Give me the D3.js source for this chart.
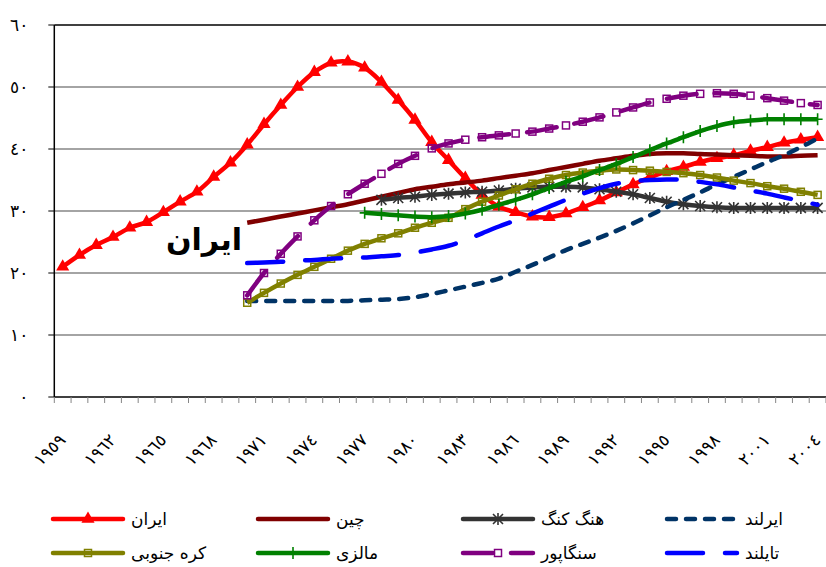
<!DOCTYPE html>
<html>
<head>
<meta charset="utf-8">
<script src="https://cdn.jsdelivr.net/npm/d3@7"></script>
<style>
  body { margin: 0; background: #fff; }
  text { font-family: "DejaVu Sans", sans-serif; }
</style>
</head>
<body>
<div id="chart"></div>
<script>
// categories (years) and their labels
const years = [1959, 1960, 1961, 1962, 1963, 1964, 1965, 1966, 1967, 1968, 1969, 1970,
  1971, 1972, 1973, 1974, 1975, 1976, 1977, 1978, 1979, 1980, 1981, 1982, 1983, 1984,
  1985, 1986, 1987, 1988, 1989, 1990, 1991, 1992, 1993, 1994, 1995, 1996, 1997, 1998,
  1999, 2000, 2001, 2002, 2003, 2004];
const yearLabels = ["١٩٥٩", "١٩٦٢", "١٩٦٥", "١٩٦٨", "١٩٧١", "١٩٧٤", "١٩٧٧", "١٩٨٠",
  "١٩٨٣", "١٩٨٦", "١٩٨٩", "١٩٩٢", "١٩٩٥", "١٩٩٨", "٢٠٠١", "٢٠٠٤"];
const labelYears = [1959, 1962, 1965, 1968, 1971, 1974, 1977, 1980, 1983, 1986, 1989,
  1992, 1995, 1998, 2001, 2004];
const yTicks = [0, 10, 20, 30, 40, 50, 60];
const yTickLabels = ["٠", "١٠", "٢٠", "٣٠", "٤٠", "٥٠", "٦٠"];

// series names
const seriesNames = ["ایران", "چین", "هنگ کنگ", "ایرلند", "کره جنوبی", "مالزی", "سنگاپور", "تایلند"];
const seriesStart = [1959, 1970, 1978, 1970, 1970, 1977, 1970, 1970];

// series values, one per year from the start year
const iran = [21.0, 22.9, 24.5, 25.8, 27.3, 28.2, 29.8, 31.5, 33.1, 35.5, 37.8, 40.7,
  44.0, 47.1, 50.0, 52.4, 53.9, 54.1, 53.1, 50.8, 47.9, 44.7, 41.1, 38.2, 35.3, 32.6,
  30.7, 29.8, 29.1, 29.0, 29.6, 30.6, 31.7, 33.0, 34.3, 35.4, 36.4, 37.1, 37.9, 38.5,
  39.0, 39.7, 40.3, 41.0, 41.5, 41.9];
const china = [28.1, 28.6, 29.1, 29.6, 30.1, 30.6, 31.1, 31.7, 32.3, 32.9, 33.5, 33.9,
  34.3, 34.6, 34.9, 35.3, 35.7, 36.1, 36.6, 37.1, 37.6, 38.1, 38.5, 38.9, 39.2, 39.3,
  39.3, 39.2, 39.1, 39.0, 38.9, 38.8, 38.8, 38.9, 39.0];
const hongKong = [31.8, 32.1, 32.3, 32.6, 32.8, 33.0, 33.1, 33.3, 33.6, 33.8, 33.9, 33.9,
  33.8, 33.5, 33.1, 32.7, 32.1, 31.5, 31.1, 30.8, 30.6, 30.5, 30.5, 30.5, 30.5, 30.5, 30.5];
const ireland = [15.5, 15.5, 15.5, 15.5, 15.5, 15.5, 15.5, 15.6, 15.7, 15.8, 16.1, 16.6,
  17.2, 17.8, 18.4, 19.1, 20.2, 21.3, 22.5, 23.7, 24.7, 25.7, 26.8, 28.0, 29.3, 30.6,
  31.8, 33.0, 34.3, 35.5, 36.7, 37.9, 39.0, 40.3, 41.7];
const korea = [15.2, 16.8, 18.3, 19.7, 21.0, 22.3, 23.6, 24.7, 25.6, 26.4, 27.3, 28.1,
  28.9, 30.3, 31.5, 32.5, 33.5, 34.4, 35.2, 35.8, 36.2, 36.5, 36.7, 36.6, 36.5, 36.3,
  36.1, 35.8, 35.4, 34.9, 34.5, 34.0, 33.6, 33.1, 32.6];
const malaysia = [29.7, 29.5, 29.3, 29.1, 29.0, 29.2, 29.6, 30.2, 31.0, 31.8, 32.7, 33.7,
  34.7, 35.6, 36.6, 37.6, 38.7, 39.8, 40.9, 41.9, 42.9, 43.7, 44.3, 44.6, 44.8, 44.8,
  44.8, 44.8];
const singapore = [16.4, 20.0, 23.1, 25.9, 28.5, 30.8, 32.7, 34.4, 36.0, 37.6, 38.9, 40.1,
  40.9, 41.5, 41.9, 42.2, 42.5, 42.8, 43.3, 43.8, 44.4, 45.1, 45.9, 46.7, 47.5, 48.1,
  48.6, 48.9, 49.0, 48.9, 48.6, 48.2, 47.8, 47.4, 47.1];
const thailand = [21.6, 21.7, 21.8, 22.0, 22.1, 22.3, 22.4, 22.5, 22.7, 22.9, 23.3, 23.8,
  24.4, 25.3, 26.4, 27.5, 28.5, 29.6, 30.7, 31.8, 32.8, 33.7, 34.4, 34.8, 35.0, 35.1,
  35.0, 34.7, 34.3, 33.8, 33.3, 32.8, 32.2, 31.6, 31.0];

const seriesValues = [iran, china, hongKong, ireland, korea, malaysia, singapore, thailand];

// styles per series
const styles = [
  { color: "#ff0000", dash: null, marker: "triangle" },
  { color: "#800000", dash: null, marker: null },
  { color: "#333333", dash: null, marker: "star" },
  { color: "#003366", dash: "9,10", marker: null },
  { color: "#808000", dash: null, marker: "square" },
  { color: "#008000", dash: null, marker: "plus" },
  { color: "#800080", dash: "30,18", marker: "square" },
  { color: "#0000ff", dash: "36,22", marker: null },
];

const margin = { top: 25, right: 0, bottom: 170, left: 54.3 },
  width = 826 - margin.left - margin.right,
  height = 567 - margin.top - margin.bottom;

const root = d3.select("#chart").append("svg")
  .attr("width", 826)
  .attr("height", 567);

const svg = root.append("g")
  .attr("transform", `translate(${margin.left},${margin.top})`);

const x = d3.scaleBand().domain(years).range([0, width]).padding(0);
const y = d3.scaleLinear().domain([0, 60]).range([height, 0]);
const cx = (yr) => x(yr) + x.bandwidth() / 2;

// gridlines
svg.selectAll(".grid")
  .data(yTicks.filter((t) => t > 0))
  .join("line")
  .attr("x1", 0)
  .attr("x2", width)
  .attr("y1", (d) => y(d))
  .attr("y2", (d) => y(d))
  .attr("stroke", (d) => (d === 60 ? "#000" : "#868686"))
  .attr("stroke-width", 1.3);

// y axis
svg.append("line")
  .attr("x1", 0).attr("x2", 0)
  .attr("y1", 0).attr("y2", height)
  .attr("stroke", "#000").attr("stroke-width", 1.5);
svg.selectAll(".ytick")
  .data(yTicks)
  .join("line")
  .attr("x1", -6).attr("x2", 0)
  .attr("y1", (d) => y(d)).attr("y2", (d) => y(d))
  .attr("stroke", "#000").attr("stroke-width", 1);
svg.selectAll(".ylabel")
  .data(yTicks)
  .join("text")
  .attr("x", -26)
  .attr("y", (d) => y(d))
  .attr("dy", "0.35em")
  .attr("text-anchor", "end")
  .attr("font-size", 17)
  .text((d, i) => yTickLabels[i]);

// x axis
svg.append("line")
  .attr("x1", 0).attr("x2", width)
  .attr("y1", height).attr("y2", height)
  .attr("stroke", "#000").attr("stroke-width", 1.3);
svg.selectAll(".xtick")
  .data(years.concat([null]))
  .join("line")
  .attr("x1", (d) => (d === null ? width : x(d)))
  .attr("x2", (d) => (d === null ? width : x(d)))
  .attr("y1", height).attr("y2", height + 6)
  .attr("stroke", "#868686").attr("stroke-width", 1);
svg.selectAll(".xlabel")
  .data(labelYears)
  .join("text")
  .attr("text-anchor", "end")
  .attr("font-size", 17)
  .attr("transform", (d) => `translate(${cx(d) + 4},${height + 44}) rotate(-45)`)
  .text((d, i) => yearLabels[i]);

// markers
function drawMarker(g, type, color) {
  if (type === "triangle") {
    g.append("path")
      .attr("d", d3.symbol(d3.symbolTriangle).size(75)())
      .attr("fill", color);
  } else if (type === "square") {
    g.append("rect")
      .attr("x", -3.5).attr("y", -3.5)
      .attr("width", 7).attr("height", 7)
      .attr("fill", "none")
      .attr("stroke", color).attr("stroke-width", 1.5);
  } else if (type === "star") {
    g.append("path")
      .attr("d", "M-5,-5L5,5M-5,5L5,-5M0,-6L0,6")
      .attr("stroke", color).attr("stroke-width", 1.6).attr("fill", "none");
  } else if (type === "plus") {
    g.append("path")
      .attr("d", "M-5,0L5,0M0,-6L0,6")
      .attr("stroke", color).attr("stroke-width", 1.6).attr("fill", "none");
  }
}

const line = d3.line()
  .x((d) => cx(d.year))
  .y((d) => y(d.value))
  .curve(d3.curveCatmullRom.alpha(0.5));

seriesNames.forEach((name, s) => {
  const pts = seriesValues[s].map((v, i) => ({ year: seriesStart[s] + i, value: v }));
  const st = styles[s];
  const g = svg.append("g");
  g.append("path")
    .datum(pts)
    .attr("d", line)
    .attr("fill", "none")
    .attr("stroke", st.color)
    .attr("stroke-width", 4.5)
    .attr("stroke-linecap", st.dash ? "round" : "butt")
    .attr("stroke-linejoin", "round")
    .attr("stroke-dasharray", st.dash);
  if (st.marker) {
    g.selectAll(".m")
      .data(pts)
      .join("g")
      .attr("transform", (d) => `translate(${cx(d.year)},${y(d.value)})`)
      .each(function () { drawMarker(d3.select(this), st.marker, st.color); });
  }
});

// Iran label inside the plot
svg.append("text")
  .attr("x", 204 - margin.left)
  .attr("y", 250 - margin.top)
  .attr("text-anchor", "middle")
  .attr("font-size", 30)
  .attr("font-weight", "bold")
  .text("ایران");

// legend
const legendX = [53, 258, 463, 667];
const legendY = [519, 553];
seriesNames.forEach((name, s) => {
  const st = styles[s];
  const lx = legendX[s % 4], ly = legendY[Math.floor(s / 4)];
  const g = root.append("g");
  g.append("line")
    .attr("x1", lx).attr("x2", lx + 70)
    .attr("y1", ly).attr("y2", ly)
    .attr("stroke", st.color)
    .attr("stroke-width", 4.5)
    .attr("stroke-linecap", "round")
    .attr("stroke-dasharray", st.dash);
  if (st.marker) {
    const m = g.append("g").attr("transform", `translate(${lx + 35},${ly})`);
    drawMarker(m, st.marker, st.color);
  }
  g.append("text")
    .attr("x", lx + 78)
    .attr("y", ly + 6)
    .attr("text-anchor", "start")
    .attr("font-size", 17)
    .text(name);
});
</script>
</body>
</html>
